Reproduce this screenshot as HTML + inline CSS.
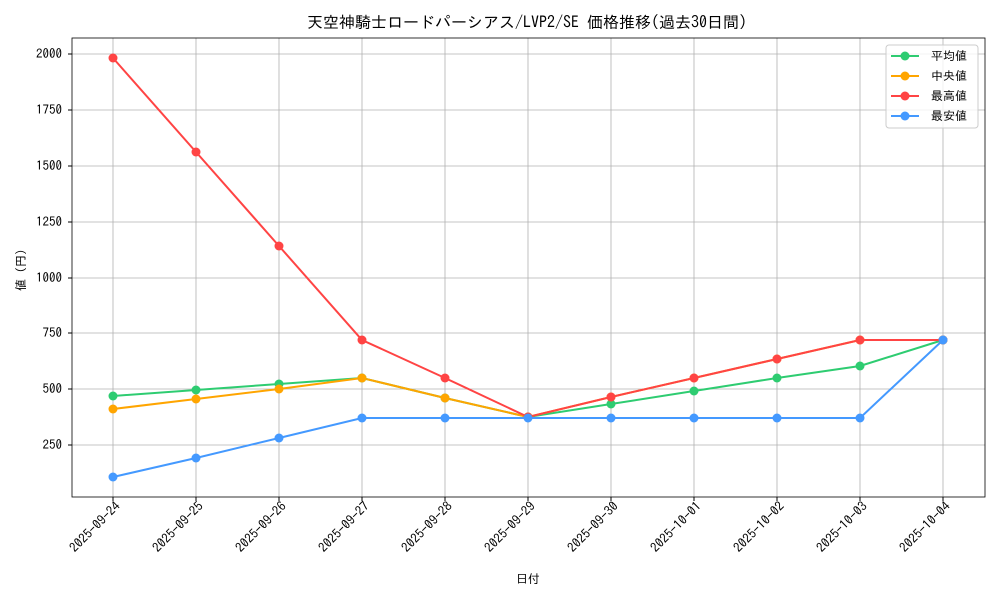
<!DOCTYPE html>
<html><head><meta charset="utf-8"><style>body{margin:0;background:#fff}svg{display:block;font-family:"IPAGothic","Noto Sans CJK JP",sans-serif}</style></head><body>
<svg width="1000" height="600" xmlns="http://www.w3.org/2000/svg">
<rect width="1000" height="600" fill="#fff"/>
<text x="527" y="28" font-size="16" text-anchor="middle">天空神騎士ロードパーシアス/LVP2/SE 価格推移(過去30日間)</text>
<g stroke="#b0b0b0" stroke-width="0.8">
<line x1="113" y1="38" x2="113" y2="497"/><line x1="196" y1="38" x2="196" y2="497"/><line x1="279" y1="38" x2="279" y2="497"/><line x1="362" y1="38" x2="362" y2="497"/><line x1="445" y1="38" x2="445" y2="497"/><line x1="528" y1="38" x2="528" y2="497"/><line x1="611" y1="38" x2="611" y2="497"/><line x1="694" y1="38" x2="694" y2="497"/><line x1="777" y1="38" x2="777" y2="497"/><line x1="860" y1="38" x2="860" y2="497"/><line x1="943" y1="38" x2="943" y2="497"/>
<line x1="72" y1="445" x2="985" y2="445"/><line x1="72" y1="389" x2="985" y2="389"/><line x1="72" y1="333" x2="985" y2="333"/><line x1="72" y1="278" x2="985" y2="278"/><line x1="72" y1="222" x2="985" y2="222"/><line x1="72" y1="166" x2="985" y2="166"/><line x1="72" y1="110" x2="985" y2="110"/><line x1="72" y1="54" x2="985" y2="54"/>
</g>
<rect x="72" y="38" width="913" height="459" fill="none" stroke="#000" stroke-width="0.8"/>
<g font-size="13" text-anchor="end">
<text x="62" y="449">250</text><text x="62" y="393">500</text><text x="62" y="337">750</text><text x="62" y="282">1000</text><text x="62" y="226">1250</text><text x="62" y="170">1500</text><text x="62" y="114">1750</text><text x="62" y="58">2000</text>
</g>
<g stroke="#000"><line x1="68" y1="445" x2="72" y2="445"/><line x1="68" y1="389" x2="72" y2="389"/><line x1="68" y1="333" x2="72" y2="333"/><line x1="68" y1="278" x2="72" y2="278"/><line x1="68" y1="222" x2="72" y2="222"/><line x1="68" y1="166" x2="72" y2="166"/><line x1="68" y1="110" x2="72" y2="110"/><line x1="68" y1="54" x2="72" y2="54"/>
<line x1="113" y1="497" x2="113" y2="501"/><line x1="196" y1="497" x2="196" y2="501"/><line x1="279" y1="497" x2="279" y2="501"/><line x1="362" y1="497" x2="362" y2="501"/><line x1="445" y1="497" x2="445" y2="501"/><line x1="528" y1="497" x2="528" y2="501"/><line x1="611" y1="497" x2="611" y2="501"/><line x1="694" y1="497" x2="694" y2="501"/><line x1="777" y1="497" x2="777" y2="501"/><line x1="860" y1="497" x2="860" y2="501"/><line x1="943" y1="497" x2="943" y2="501"/></g>
<g font-size="13" text-anchor="end">
<text transform="translate(121,507) rotate(-45)">2025-09-24</text><text transform="translate(204,507) rotate(-45)">2025-09-25</text><text transform="translate(287,507) rotate(-45)">2025-09-26</text><text transform="translate(370,507) rotate(-45)">2025-09-27</text><text transform="translate(453,507) rotate(-45)">2025-09-28</text><text transform="translate(536,507) rotate(-45)">2025-09-29</text><text transform="translate(619,507) rotate(-45)">2025-09-30</text><text transform="translate(702,507) rotate(-45)">2025-10-01</text><text transform="translate(785,507) rotate(-45)">2025-10-02</text><text transform="translate(868,507) rotate(-45)">2025-10-03</text><text transform="translate(951,507) rotate(-45)">2025-10-04</text>
</g>
<text x="528" y="583" font-size="12" text-anchor="middle">日付</text>
<text transform="translate(25,270) rotate(-90)" font-size="12" text-anchor="middle">値 (円)</text>
<g fill="none" stroke-width="2">
<polyline stroke="#2ecc71" points="113,396 196,390 279,384 362,378 445,398 528,417 611,404 694,391 777,378 860,366 943,340"/>
<polyline stroke="#ffa500" points="113,409 196,399 279,389 362,378 445,398 528,417 611,397 694,378 777,359 860,340 943,340"/>
<polyline stroke="#ff4444" points="113,58 196,152 279,246 362,340 445,378 528,417 611,397 694,378 777,359 860,340 943,340"/>
<polyline stroke="#4499ff" points="113,477 196,458 279,438 362,418 445,418 528,418 611,418 694,418 777,418 860,418 943,340"/>
</g>
<g fill="#2ecc71"><circle cx="113" cy="396" r="4.5"/><circle cx="196" cy="390" r="4.5"/><circle cx="279" cy="384" r="4.5"/><circle cx="362" cy="378" r="4.5"/><circle cx="445" cy="398" r="4.5"/><circle cx="528" cy="417" r="4.5"/><circle cx="611" cy="404" r="4.5"/><circle cx="694" cy="391" r="4.5"/><circle cx="777" cy="378" r="4.5"/><circle cx="860" cy="366" r="4.5"/><circle cx="943" cy="340" r="4.5"/></g>
<g fill="#ffa500"><circle cx="113" cy="409" r="4.5"/><circle cx="196" cy="399" r="4.5"/><circle cx="279" cy="389" r="4.5"/><circle cx="362" cy="378" r="4.5"/><circle cx="445" cy="398" r="4.5"/><circle cx="528" cy="417" r="4.5"/><circle cx="611" cy="397" r="4.5"/><circle cx="694" cy="378" r="4.5"/><circle cx="777" cy="359" r="4.5"/><circle cx="860" cy="340" r="4.5"/><circle cx="943" cy="340" r="4.5"/></g>
<g fill="#ff4444"><circle cx="113" cy="58" r="4.5"/><circle cx="196" cy="152" r="4.5"/><circle cx="279" cy="246" r="4.5"/><circle cx="362" cy="340" r="4.5"/><circle cx="445" cy="378" r="4.5"/><circle cx="528" cy="417" r="4.5"/><circle cx="611" cy="397" r="4.5"/><circle cx="694" cy="378" r="4.5"/><circle cx="777" cy="359" r="4.5"/><circle cx="860" cy="340" r="4.5"/><circle cx="943" cy="340" r="4.5"/></g>
<g fill="#4499ff"><circle cx="113" cy="477" r="4.5"/><circle cx="196" cy="458" r="4.5"/><circle cx="279" cy="438" r="4.5"/><circle cx="362" cy="418" r="4.5"/><circle cx="445" cy="418" r="4.5"/><circle cx="528" cy="418" r="4.5"/><circle cx="611" cy="418" r="4.5"/><circle cx="694" cy="418" r="4.5"/><circle cx="777" cy="418" r="4.5"/><circle cx="860" cy="418" r="4.5"/><circle cx="943" cy="340" r="4.5"/></g>
<rect x="886" y="45" width="92" height="83" fill="#fff" fill-opacity="0.8" stroke="#ccc" rx="3"/>
<g stroke-width="2"><line x1="891" y1="56" x2="919" y2="56" stroke="#2ecc71"/><line x1="891" y1="76" x2="919" y2="76" stroke="#ffa500"/><line x1="891" y1="96" x2="919" y2="96" stroke="#ff4444"/><line x1="891" y1="116" x2="919" y2="116" stroke="#4499ff"/></g>
<circle cx="905" cy="56" r="4.5" fill="#2ecc71"/><circle cx="905" cy="76" r="4.5" fill="#ffa500"/><circle cx="905" cy="96" r="4.5" fill="#ff4444"/><circle cx="905" cy="116" r="4.5" fill="#4499ff"/>
<g font-size="12"><text x="931" y="60">平均値</text><text x="931" y="80"> 中央値</text><text x="931" y="100">最高値</text><text x="931" y="120">最安値</text></g>
</svg>
</body></html>
